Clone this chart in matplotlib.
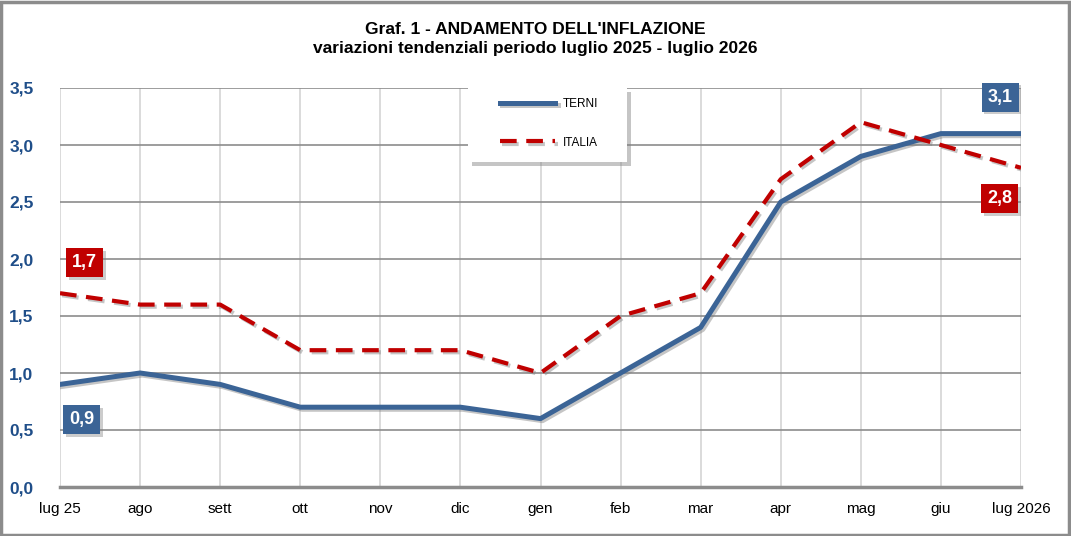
import matplotlib.pyplot as plt
import matplotlib.patheffects as pe
from matplotlib.patches import Rectangle

months = ["lug 25", "ago", "sett", "ott", "nov", "dic", "gen", "feb",
          "mar", "apr", "mag", "giu", "lug 2026"]
terni = [0.9, 1.0, 0.9, 0.7, 0.7, 0.7, 0.6, 1.0, 1.4, 2.5, 2.9, 3.1, 3.1]
italia = [1.7, 1.6, 1.6, 1.2, 1.2, 1.2, 1.0, 1.5, 1.7, 2.7, 3.2, 3.0, 2.8]
yticks = [0.0, 0.5, 1.0, 1.5, 2.0, 2.5, 3.0, 3.5]

blue = "#3B6496"
red = "#C00000"
plt.rcParams["font.family"] = ["Liberation Sans", "DejaVu Sans"]

fig = plt.figure(figsize=(10.71, 5.36), dpi=100)
ax = fig.add_axes([60 / 1071, 1 - 487 / 536, 961 / 1071, 399 / 536])

x = list(range(len(months)))
shadow = [pe.SimpleLineShadow(offset=(1.5, -1.5), shadow_color="gray", alpha=0.45), pe.Normal()]
ax.plot(x, terni, color=blue, lw=3.6, label="TERNI", path_effects=shadow, zorder=4)
ax.plot(x, italia, color=red, lw=3, ls=(0, (4, 2.3)), label="ITALIA", path_effects=shadow, zorder=5)

ax.set_xlim(0, len(months) - 1)
ax.set_ylim(0, 3.5)
ax.set_yticks(yticks)
ax.set_yticklabels([f"{v:.1f}".replace(".", ",") for v in yticks],
                   fontsize=12.5, fontweight="bold", color="#1F4E89")
ax.set_xticks(x)
ax.set_xticklabels(months, fontsize=11)
ax.tick_params(length=0)
ax.tick_params(axis="x", pad=11)
ax.tick_params(axis="y", pad=19)
ax.grid(axis="y", color="#8C8C8C", lw=1.2)
ax.grid(axis="x", color="#D4D4D4", lw=1.2)
ax.set_axisbelow(True)
for s in ["top", "right", "left"]:
    ax.spines[s].set_visible(False)
ax.spines["bottom"].set_color("#8C8C8C")
ax.spines["bottom"].set_linewidth(2.5)


def value_box(xv, yv, text, color):
    t = ax.annotate(text, (xv, yv), xycoords="data", fontsize=13, fontweight="bold",
                    color="white", ha="center", va="center",
                    bbox=dict(boxstyle="square,pad=0.33", fc=color, ec="none"),
                    zorder=6)
    t.get_bbox_patch().set_path_effects(
        [pe.withSimplePatchShadow(offset=(2, -2), shadow_rgbFace="gray", alpha=0.4)])


value_box(0.31, 1.97, "1,7", red)
value_box(0.27, 0.59, "0,9", blue)
value_box(11.74, 3.42, "3,1", blue)
value_box(11.73, 2.53, "2,8", red)

# legend box with shadow
box = Rectangle((408 / 961, 325 / 399), 159 / 961, 74 / 399, transform=ax.transAxes,
                fc="white", ec="none", zorder=7,
                path_effects=[pe.withSimplePatchShadow(offset=(3, -3), shadow_rgbFace="gray", alpha=0.45)])
ax.add_patch(box)
leg = ax.legend(loc="upper left", bbox_to_anchor=(440 / 961, (487 - 98) / 399), fontsize=8.5,
                frameon=False, borderpad=0, labelspacing=2.25, handlelength=4.7,
                handletextpad=0.6, borderaxespad=0)
leg.set_zorder(8)

fig.text(0.5, 1 - 29 / 536, "Graf. 1 - ANDAMENTO DELL'INFLAZIONE", ha="center",
         va="center", fontsize=12.5, fontweight="bold")
fig.text(0.5, 1 - 49 / 536, "variazioni tendenziali periodo luglio 2025 - luglio 2026",
         ha="center", va="center", fontsize=12.5, fontweight="bold")

fig.patches.append(Rectangle((0.001, 0.002), 0.997, 0.995, transform=fig.transFigure,
                             fill=False, ec="#8C8C8C", lw=2.5))

fig.savefig("out.png", dpi=100)
